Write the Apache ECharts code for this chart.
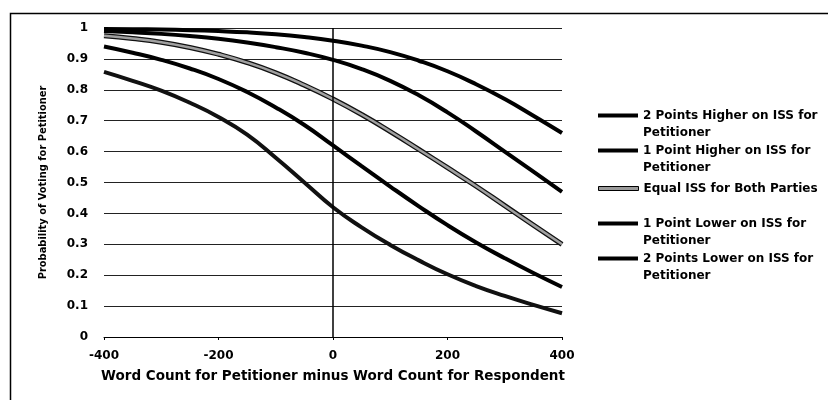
<!DOCTYPE html>
<html>
<head>
<meta charset="utf-8">
<script src="https://cdn.jsdelivr.net/npm/echarts@6/dist/echarts.min.js"></script>
<style>
  html, body { margin: 0; padding: 0; background: #fff; }
  #chart { width: 828px; height: 400px; }
</style>
</head>
<body>
<div id="chart"></div>
<script>
// word count difference (petitioner minus respondent)
const wordDiff = [-400, -350, -300, -250, -200, -150, -100, -50, 0, 50, 100, 150, 200, 250, 300, 350, 400]

// probability of voting for petitioner
const twoHigher = [0.997, 0.996, 0.995, 0.993, 0.99, 0.986, 0.98, 0.971, 0.959, 0.943, 0.922, 0.894, 0.86, 0.818, 0.77, 0.716, 0.66]
const oneHigher = [0.99, 0.986, 0.981, 0.974, 0.965, 0.953, 0.938, 0.92, 0.897, 0.867, 0.829, 0.782, 0.727, 0.665, 0.6, 0.535, 0.47]
const equalIss = [0.975, 0.966, 0.954, 0.937, 0.915, 0.888, 0.855, 0.815, 0.77, 0.72, 0.665, 0.607, 0.548, 0.488, 0.425, 0.362, 0.3]
const oneLower = [0.94, 0.92, 0.897, 0.869, 0.835, 0.793, 0.743, 0.686, 0.62, 0.553, 0.487, 0.423, 0.362, 0.306, 0.255, 0.207, 0.162]
const twoLower = [0.858, 0.829, 0.797, 0.758, 0.712, 0.655, 0.58, 0.5, 0.42, 0.355, 0.298, 0.248, 0.203, 0.165, 0.133, 0.104, 0.077]

const seriesNames = [
  "2 Points Higher on ISS for\nPetitioner",
  "1 Point Higher on ISS for\nPetitioner",
  "Equal ISS for Both Parties",
  "1 Point Lower on ISS for\nPetitioner",
  "2 Points Lower on ISS for\nPetitioner"
]

const pts = (vals) => wordDiff.map((x, i) => [x, vals[i]])
const font = "'DejaVu Sans', sans-serif"

// legend icon: bar on top of a taller box so it lines up with the first text line
const twoLineIcon = "path://M0,0L40,0L40,4L0,4Z M0,21L0.01,21"
const legendTops = [107, 142, 180, 215, 250]

const legends = seriesNames.map((name, i) => {
  const single = !name.includes("\n")
  return {
    left: 598,
    top: legendTops[i],
    padding: 0,
    orient: "vertical",
    selectedMode: false,
    itemWidth: 40,
    itemHeight: single ? 4 : 21,
    symbolKeepAspect: false,
    itemGap: 0,
    textStyle: { fontFamily: font, fontWeight: "bold", fontSize: 12, color: "#000", lineHeight: 17 },
    data: [
      {
        name,
        icon: single ? "rect" : twoLineIcon,
        itemStyle: single ? { color: "#9a9a9a", borderColor: "#000", borderWidth: 1 } : { color: "#000" }
      }
    ]
  }
})

const line = (name, vals, color, width, z) => ({
  name,
  type: "line",
  data: pts(vals),
  smooth: 0.5,
  showSymbol: false,
  color,
  z,
  lineStyle: { color, width },
  emphasis: { disabled: true }
})

const options = {
  animation: false,
  graphic: [
    {
      type: "rect",
      left: 8,
      top: 11,
      shape: { width: 900, height: 500 },
      style: { fill: "none", stroke: "#000", lineWidth: 1.5 }
    }
  ],
  legend: legends,
  grid: { left: 104, right: 266, top: 28, bottom: 63 },
  xAxis: {
    type: "value",
    min: -400,
    max: 400,
    interval: 200,
    name: "Word Count for Petitioner minus Word Count for Respondent",
    nameLocation: "middle",
    nameGap: 32,
    nameTextStyle: { fontFamily: font, fontWeight: "bold", fontSize: 13.5, color: "#000" },
    axisLine: { show: true, lineStyle: { color: "#000", width: 1 } },
    axisTick: { show: true, length: 3, lineStyle: { color: "#000" } },
    axisLabel: { fontFamily: font, fontWeight: "bold", fontSize: 12, color: "#000", margin: 13 },
    splitLine: { show: false }
  },
  yAxis: {
    type: "value",
    min: 0,
    max: 1,
    interval: 0.1,
    name: "Probability of Voting for Petitioner",
    nameLocation: "middle",
    nameGap: 55,
    nameTextStyle: { fontFamily: "'Liberation Sans Narrow', 'DejaVu Sans Condensed', sans-serif", fontWeight: "bold", fontSize: 11, color: "#000" },
    axisLine: { show: false },
    axisTick: { show: false },
    axisLabel: { fontFamily: font, fontWeight: "bold", fontSize: 12, color: "#000", margin: 16 },
    splitLine: { show: true, lineStyle: { color: "#222", width: 1 } }
  },
  series: [
    line(seriesNames[0], twoHigher, "#000", 4, 3),
    line(seriesNames[1], oneHigher, "#000", 4, 3),
    // dark outline under the grey curve
    line("", equalIss, "#111", 5, 2),
    line(seriesNames[2], equalIss, "#a0a0a0", 2.5, 4),
    line(seriesNames[3], oneLower, "#000", 4, 3),
    {
      ...line(seriesNames[4], twoLower, "#111", 4, 3),
      markLine: {
        silent: true,
        symbol: "none",
        label: { show: false },
        lineStyle: { color: "#000", width: 1.5, type: "solid" },
        data: [{ xAxis: 0 }]
      }
    }
  ]
}

const chartBox = echarts.init(document.getElementById("chart"))
chartBox.setOption(options)
</script>
</body>
</html>
